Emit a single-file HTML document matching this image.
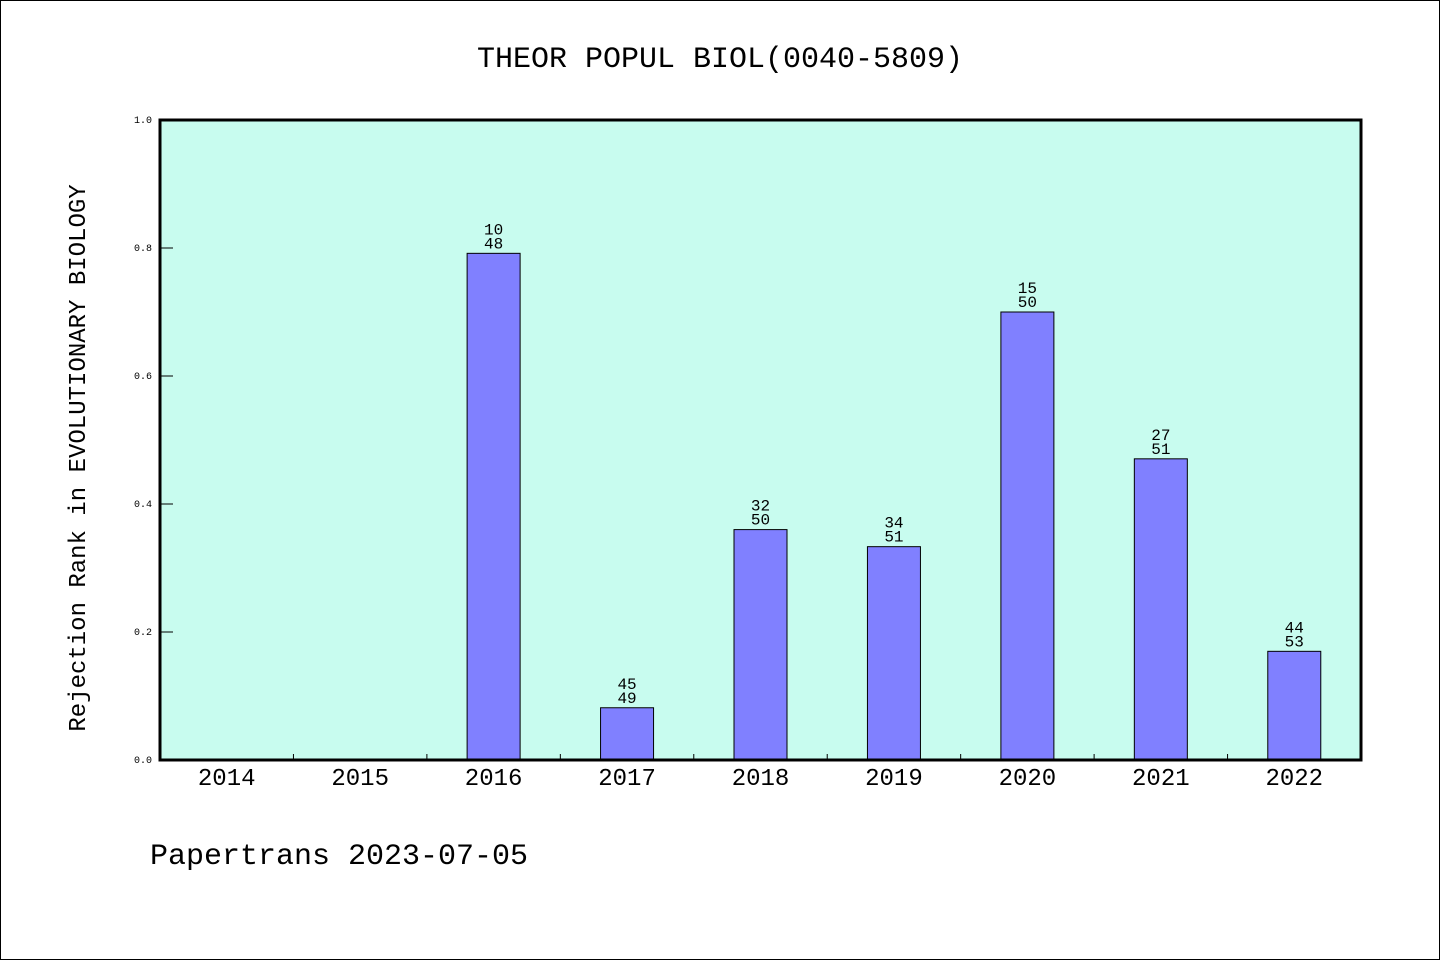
<!DOCTYPE html>
<html><head><meta charset="utf-8"><style>
body{margin:0;background:#fff}
svg{display:block;font-family:"WenQuanYi Zen Hei Mono","Liberation Mono",monospace}
</style></head><body>
<svg id="c" width="1440" height="960">
<rect x="0.5" y="0.5" width="1439" height="959" fill="#fff" stroke="#000"/>
<text x="720" y="67" font-size="30" text-anchor="middle">THEOR POPUL BIOL(0040-5809)</text>
<rect x="160" y="120" width="1201" height="640" fill="#c8fcef"/>
<g id="marks"></g>
<rect x="160" y="120" width="1201" height="640" fill="none" stroke="#000" stroke-width="3"/>
<text transform="translate(85,458) rotate(-90)" font-size="24" text-anchor="middle">Rejection Rank in EVOLUTIONARY BIOLOGY</text>
<text x="150" y="864" font-size="30">Papertrans 2023-07-05</text>
</svg>
<script>
const categories=["2014","2015","2016","2017","2018","2019","2020","2021","2022"];
const ranks=[null,null,10,45,32,34,15,27,44];
const totals=[null,null,48,49,50,51,50,51,53];
const yTicks=[0,0.2,0.4,0.6,0.8,1.0];
const NS="http://www.w3.org/2000/svg";
const X0=160,X1=1361,Y0=760,Y1=120;
const bw=(X1-X0)/categories.length;
const y=v=>Y0-(v)*(Y0-Y1);
const xc=i=>X0+(i+0.5)*bw;
const g=document.getElementById('marks');
function mk(t,a){const e=document.createElementNS(NS,t);for(const k in a)e.setAttribute(k,a[k]);g.appendChild(e);return e;}
yTicks.forEach(v=>{
  const l=mk('line',{x1:X0,x2:X0+13,y1:y(v),y2:y(v),stroke:'#000','stroke-width':1});
  
  
  const t=mk('text',{x:X0-8,y:y(v)+3,'font-size':10,'text-anchor':'end'});
  t.textContent=v.toFixed(1);
  
  
});
categories.forEach((c,i)=>{
  if(i>0){const l=mk('line',{x1:X0+i*bw,x2:X0+i*bw,y1:Y0,y2:Y0-6,stroke:'#000'});
  
  }
  const t=mk('text',{x:xc(i),y:785,'font-size':24,'text-anchor':'middle'});
  t.textContent=c;
  
  
  if(ranks[i]==null)return;
  const v=1-ranks[i]/totals[i];
  const b=mk('rect',{x:xc(i)-26.5,y:y(v),width:53,height:Y0-y(v),fill:'#8080ff',stroke:'#000','stroke-width':1});
  
  
  const t1=mk('text',{x:xc(i),y:y(v)-19,'font-size':16,'text-anchor':'middle'});
  t1.textContent=ranks[i];
  
  
  const t2=mk('text',{x:xc(i),y:y(v)-5,'font-size':16,'text-anchor':'middle'});
  t2.textContent=totals[i];
  
  
});
</script>
</body></html>
